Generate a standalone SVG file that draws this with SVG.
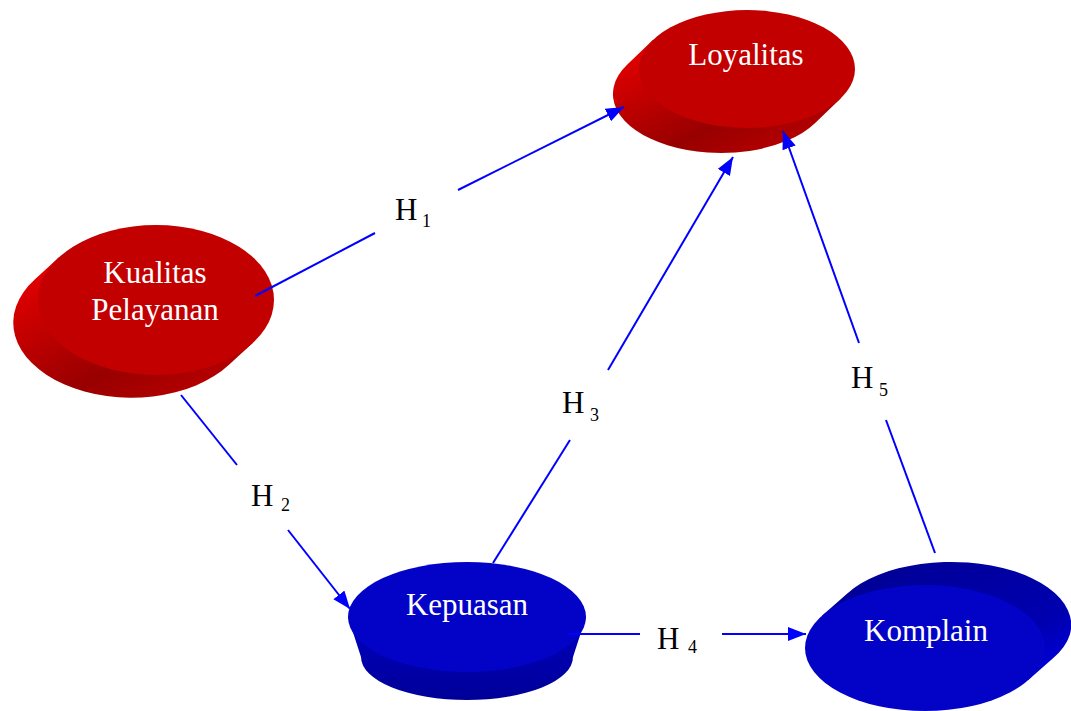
<svg xmlns="http://www.w3.org/2000/svg" width="1071" height="711" viewBox="0 0 1071 711">
<style>
.lbl{font-family:"Liberation Serif","Times New Roman",serif;font-size:31px;fill:#ffffff;text-anchor:middle}
.h{font-family:"Liberation Serif","Times New Roman",serif;font-size:31px;fill:#000000}
.sub{font-family:"Liberation Serif","Times New Roman",serif;font-size:18px;fill:#000000}
.edge{stroke:#0000ff;stroke-width:2;fill:none}
.redTop{fill:#c30000}
.blueTop{fill:#0303c8}
</style>
<defs>
<linearGradient id="redSide" x1="0" y1="0" x2="1" y2="1">
<stop offset="0" stop-color="#f00000"/>
<stop offset="0.6" stop-color="#980000"/>
<stop offset="1" stop-color="#c40000"/>
</linearGradient>
<linearGradient id="blueSide" x1="0" y1="0" x2="0" y2="1">
<stop offset="0" stop-color="#0000c0"/>
<stop offset="1" stop-color="#000098"/>
</linearGradient>
<linearGradient id="blueBack" x1="0" y1="0" x2="1" y2="1">
<stop offset="0" stop-color="#000090"/>
<stop offset="0.7" stop-color="#0000b0"/>
<stop offset="1" stop-color="#0000e6"/>
</linearGradient>
<marker id="arr" markerUnits="userSpaceOnUse" markerWidth="20" markerHeight="16" refX="18" refY="7" orient="auto">
<path d="M0,0 L18,7 L0,14 Z" fill="#0000ff"/>
</marker>
</defs>
<g id="loyalitas">
<path d="M653.1,39.8 L627.1,64.8 A108,59 0 1 0 814.9,123.2 L840.9,98.2 Z" fill="url(#redSide)"/>
<ellipse class="redTop" cx="747" cy="69" rx="108" ry="59"/>
<text class="lbl" x="746" y="65">Loyalitas</text>
</g>
<g id="kualitas">
<path d="M59,257.3 L35,279.3 A118,75 0 1 0 229,364.7 L253,342.7 Z" fill="url(#redSide)"/>
<ellipse class="redTop" cx="156" cy="300" rx="118" ry="75"/>
<text class="lbl" x="155" y="283">Kualitas</text>
<text class="lbl" x="155" y="320">Pelayanan</text>
</g>
<g id="kepuasan">
<path d="M348,617 L361,657 A106,43 0 0 0 573,657 L586,617 Z" fill="url(#blueSide)"/>
<ellipse class="blueTop" cx="467" cy="617" rx="119" ry="55"/>
<text class="lbl" x="467" y="615">Kepuasan</text>
</g>
<g id="komplain">
<path d="M822,615.7 L847,593.7 A120,63 0 1 1 1053,658.3 L1028,680.3 Z" fill="url(#blueBack)"/>
<ellipse class="blueTop" cx="925" cy="648" rx="120" ry="63"/>
<text class="lbl" x="926" y="641">Komplain</text>
</g>
<g id="connectors">
<line class="edge" x1="255" y1="296" x2="375" y2="233"/>
<line class="edge" x1="458" y1="190" x2="624" y2="107" marker-end="url(#arr)"/>
<line class="edge" x1="181" y1="395" x2="237" y2="465"/>
<line class="edge" x1="288" y1="530" x2="350" y2="609" marker-end="url(#arr)"/>
<line class="edge" x1="493" y1="563" x2="570" y2="440"/>
<line class="edge" x1="608" y1="370" x2="733" y2="157" marker-end="url(#arr)"/>
<line class="edge" x1="567" y1="634" x2="640" y2="634"/>
<line class="edge" x1="722" y1="634" x2="806" y2="634" marker-end="url(#arr)"/>
<line class="edge" x1="935" y1="553" x2="886" y2="420"/>
<line class="edge" x1="859" y1="343" x2="783" y2="131" marker-end="url(#arr)"/>
<text class="h" x="395" y="220">H</text><text class="sub" x="422" y="227">1</text>
<text class="h" x="251" y="506">H</text><text class="sub" x="281" y="511">2</text>
<text class="h" x="562" y="413">H</text><text class="sub" x="590" y="421">3</text>
<text class="h" x="657" y="649">H</text><text class="sub" x="688" y="653">4</text>
<text class="h" x="851" y="388">H</text><text class="sub" x="879" y="396">5</text>
</g>
</svg>
